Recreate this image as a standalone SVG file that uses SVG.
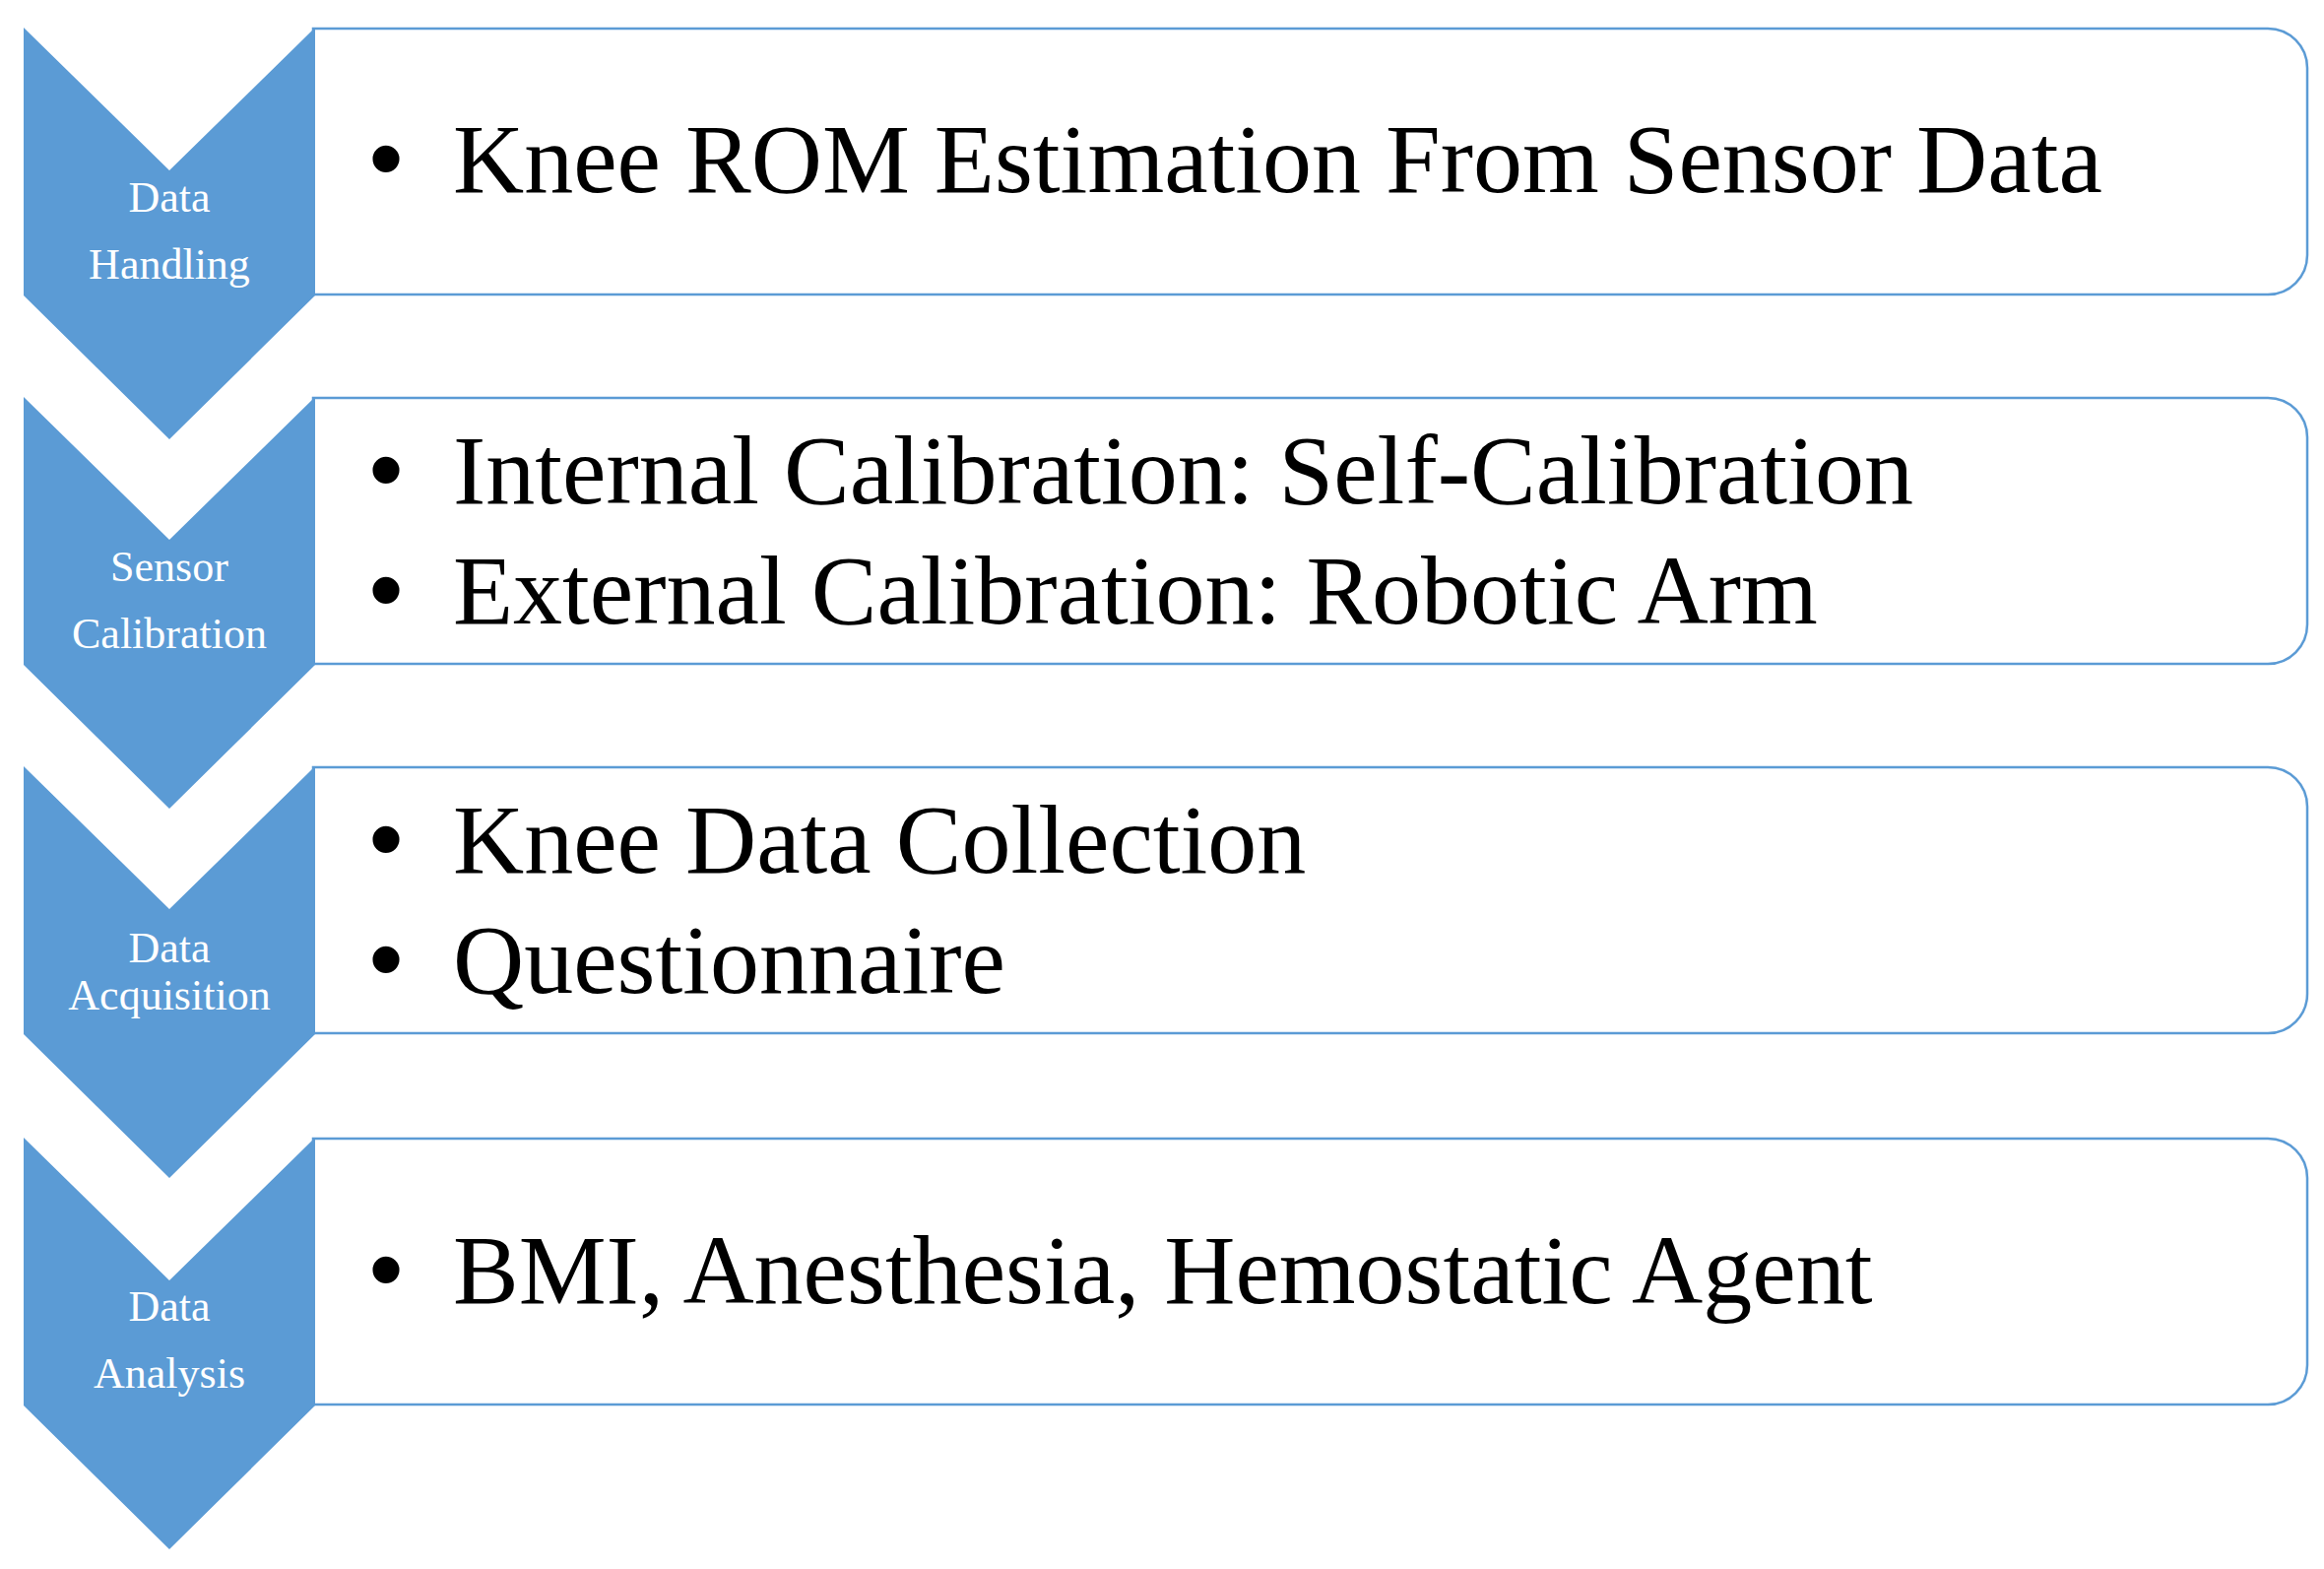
<svg xmlns="http://www.w3.org/2000/svg" width="2360" height="1593" viewBox="0 0 2360 1593">
<style>
.chev{fill:#5B9BD5;}
.box{fill:#FFFFFF;stroke:#5B9BD5;stroke-width:2.5;}
.lbl{font-family:"Liberation Serif","Times New Roman",serif;font-size:44px;fill:#FFFFFF;text-anchor:middle;}
.txt{font-family:"Liberation Serif","Times New Roman",serif;font-size:100px;fill:#000000;}
.bul{font-family:"Liberation Sans",Arial,sans-serif;font-size:100px;fill:#000000;text-anchor:middle;}
</style>
<rect x="0" y="0" width="2360" height="1593" fill="#FFFFFF"/>
<g id="connectors"/>
<g id="node-data-handling">
<path class="box" d="M318,29 H2303 A40,40 0 0 1 2343,69 V259 A40,40 0 0 1 2303,299 H318 Z"/>
<polygon class="chev" points="24,28 172,173 320,28 320,300 172,446 24,300"/>
<text class="lbl" x="172" y="215">Data</text>
<text class="lbl" x="172" y="283">Handling</text>
<text class="bul" x="392" y="195">•</text>
<text class="txt" x="460" y="195">Knee ROM Estimation From Sensor Data</text>
</g>
<g id="node-sensor-calibration">
<path class="box" d="M318,404 H2303 A40,40 0 0 1 2343,444 V634 A40,40 0 0 1 2303,674 H318 Z"/>
<polygon class="chev" points="24,403 172,548 320,403 320,675 172,821 24,675"/>
<text class="lbl" x="172" y="590">Sensor</text>
<text class="lbl" x="172" y="658">Calibration</text>
<text class="bul" x="392" y="511">•</text>
<text class="txt" x="460" y="511">Internal Calibration: Self-Calibration</text>
<text class="bul" x="392" y="633">•</text>
<text class="txt" x="460" y="633">External Calibration: Robotic Arm</text>
</g>
<g id="node-data-acquisition">
<path class="box" d="M318,779 H2303 A40,40 0 0 1 2343,819 V1009 A40,40 0 0 1 2303,1049 H318 Z"/>
<polygon class="chev" points="24,778 172,923 320,778 320,1050 172,1196 24,1050"/>
<text class="lbl" x="172" y="977">Data</text>
<text class="lbl" x="172" y="1025">Acquisition</text>
<text class="bul" x="392" y="886">•</text>
<text class="txt" x="460" y="886">Knee Data Collection</text>
<text class="bul" x="392" y="1008">•</text>
<text class="txt" x="460" y="1008">Questionnaire</text>
</g>
<g id="node-data-analysis">
<path class="box" d="M318,1156 H2303 A40,40 0 0 1 2343,1196 V1386 A40,40 0 0 1 2303,1426 H318 Z"/>
<polygon class="chev" points="24,1155 172,1300 320,1155 320,1427 172,1573 24,1427"/>
<text class="lbl" x="172" y="1341">Data</text>
<text class="lbl" x="172" y="1409">Analysis</text>
<text class="bul" x="392" y="1323">•</text>
<text class="txt" x="460" y="1323">BMI, Anesthesia, Hemostatic Agent</text>
</g>
</svg>
